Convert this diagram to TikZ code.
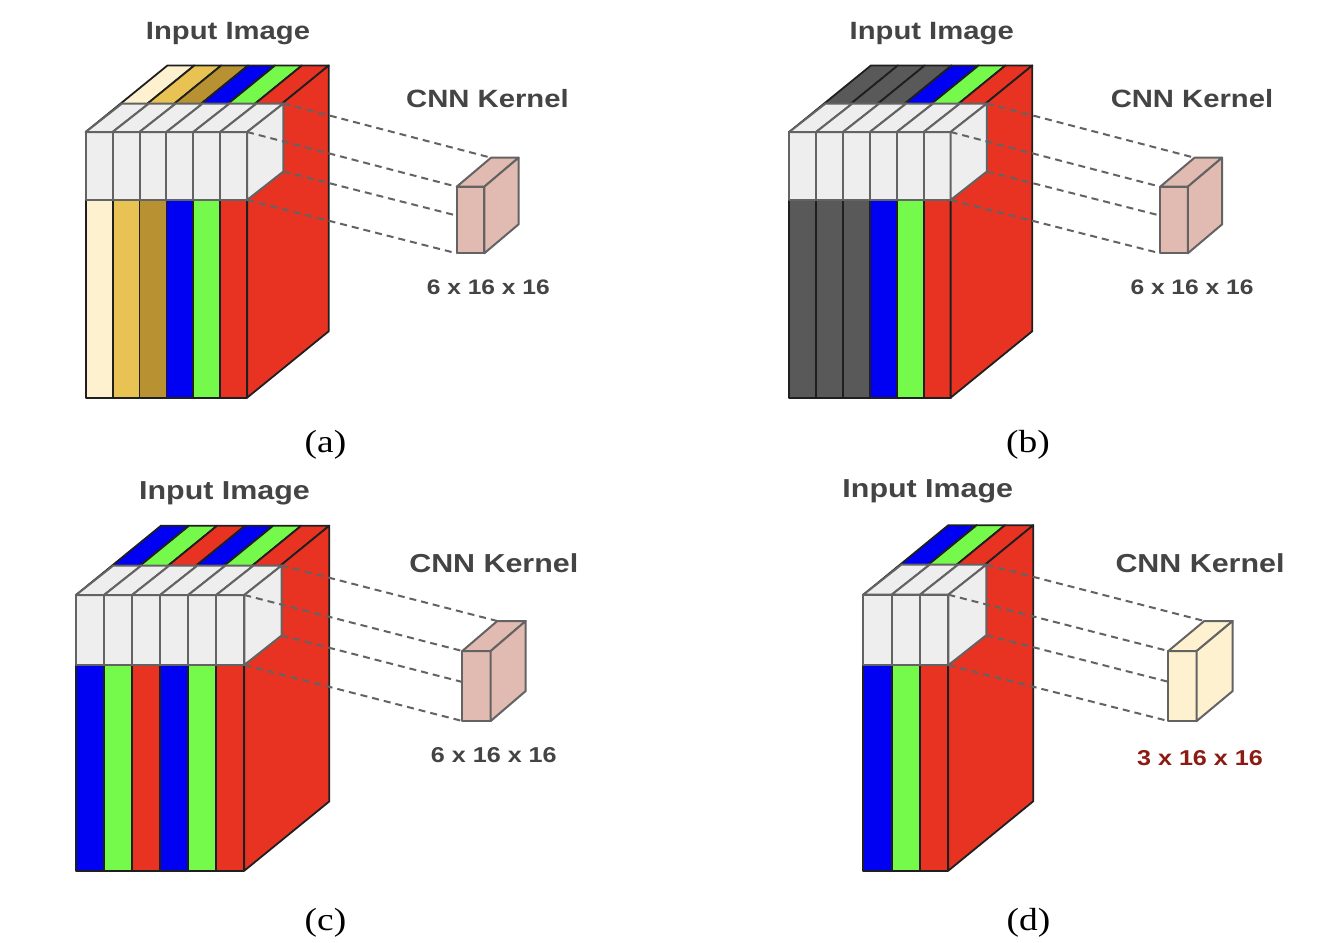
\documentclass[tikz,border=0pt]{standalone}
\usepackage{fontspec}
\setmainfont{Liberation Serif}
\setsansfont{Liberation Sans}
\usepackage{graphicx}
\definecolor{creamc}{HTML}{FDF1CF}
\definecolor{goldc}{HTML}{E8C354}
\definecolor{dgoldc}{HTML}{B79132}
\definecolor{bluec}{HTML}{0000F2}
\definecolor{greenc}{HTML}{75FA4C}
\definecolor{redc}{HTML}{E83323}
\definecolor{dgrayc}{HTML}{595959}
\definecolor{slabc}{HTML}{EEEEEE}
\definecolor{pinkc}{HTML}{E1BBB1}
\definecolor{txtc}{HTML}{444444}
\definecolor{dimredc}{HTML}{8C1B13}
\definecolor{edgec}{HTML}{636363}
\tikzset{
  blockedge/.style={draw=black!88, line width=1.8pt, line join=round},
  slabedge/.style={draw=edgec, fill=slabc, line width=2pt, line join=round},
  kedge/.style={draw=edgec, line width=2pt, line join=round},
  dashline/.style={draw=edgec, line width=2pt, dash pattern=on 7pt off 5pt},
  ttl/.style={font=\sffamily\bfseries\fontsize{25}{30}\selectfont, text=txtc, anchor=base, inner sep=0pt},
  ttlb/.style={font=\sffamily\bfseries\fontsize{26}{31}\selectfont, text=txtc, anchor=base, inner sep=0pt},
  dimlab/.style={font=\sffamily\bfseries\fontsize{21}{25}\selectfont, text=txtc, anchor=base, inner sep=0pt},
  dimlabb/.style={font=\sffamily\bfseries\fontsize{21.5}{25}\selectfont, text=txtc, anchor=base, inner sep=0pt},
  caplab/.style={font=\fontsize{32}{36}\selectfont, text=black, anchor=base, inner sep=0pt}
}
\newcommand{\cubepanel}[2]{%
  \foreach \c [count=\i from 0] in {#1} {
    \filldraw[blockedge, fill=\c] (\pX+\i*\pW,\pY) rectangle ++(\pW,\pH);
    \filldraw[blockedge, fill=\c] (\pX+\i*\pW,\pY) -- ++(\pW,0) -- ++(\pDX,-\pDY) -- ++(-\pW,0) -- cycle;
  }
  \filldraw[blockedge, fill=redc] (\pX+\pN*\pW,\pY) -- ++(\pDX,-\pDY) -- ++(0,\pH) -- ++(-\pDX,\pDY) -- cycle;
  \foreach \c [count=\i from 0] in {#1} {
    \filldraw[slabedge] (\pX+\i*\pW,\pY) rectangle ++(\pW,\pSH);
    \filldraw[slabedge] (\pX+\i*\pW,\pY) -- ++(\pW,0) -- ++(\pSX,-\pSY) -- ++(-\pW,0) -- cycle;
  }
  \filldraw[slabedge] (\pX+\pN*\pW,\pY) -- ++(\pSX,-\pSY) -- ++(0,\pSH) -- ++(-\pSX,\pSY) -- cycle;
  \coordinate (#2s1) at (\pX+\pN*\pW+\pSX, \pY-\pSY);
  \coordinate (#2s2) at (\pX+\pN*\pW, \pY);
  \coordinate (#2s3) at (\pX+\pN*\pW+\pSX, \pY-\pSY+\pSH);
  \coordinate (#2s4) at (\pX+\pN*\pW, \pY+\pSH);
  \coordinate (#2k1) at (\kX+\kDX, \kY-\kDY);
  \coordinate (#2k2) at (\kX, \kY);
  \coordinate (#2k3) at (\kX+\kDX, \kY-\kDY+\kH);
  \coordinate (#2k4) at (\kX, \kY+\kH);
  \draw[dashline] (#2s1) -- (#2k1);
  \draw[dashline] (#2s2) -- (#2k2);
  \draw[dashline] (#2s3) -- (#2k3);
  \draw[dashline] (#2s4) -- (#2k4);
  \filldraw[kedge, fill=\kC] (#2k2) rectangle ++(\kW,\kH);
  \filldraw[kedge, fill=\kC] (#2k2) -- ++(\kW,0) -- ++(\kDX,-\kDY) -- ++(-\kW,0) -- cycle;
  \filldraw[kedge, fill=\kC] (\kX+\kW,\kY) -- ++(\kDX,-\kDY) -- ++(0,\kH) -- ++(-\kDX,\kDY) -- cycle;
}
\begin{document}
\begin{tikzpicture}[x=1pt, y=-1pt]
\useasboundingbox[fill=white] (0,0) rectangle (1324,942);
% ---------- panel (a)
\def\pX{85.7}\def\pY{132}\def\pW{26.9}\def\pN{6}\def\pH{265.7}
\def\pDX{81.7}\def\pDY{66.5}\def\pSH{68}\def\pSX{36.3}\def\pSY{28.5}
\def\kX{456.7}\def\kY{186.7}\def\kW{27.6}\def\kH{66.6}\def\kDX{34.3}\def\kDY{29}\def\kC{pinkc}
\cubepanel{creamc,goldc,dgoldc,bluec,greenc,redc}{a}
% ---------- panel (b)
\def\pX{789.2}\def\kX{1160.2}
\cubepanel{dgrayc,dgrayc,dgrayc,bluec,greenc,redc}{b}
% ---------- panel (c)
\def\pX{76}\def\pY{595}\def\pW{28.05}\def\pN{6}\def\pH{275.7}
\def\pDX{85}\def\pDY{69.3}\def\pSH{70}\def\pSX{37.3}\def\pSY{29.5}
\def\kX{462.3}\def\kY{651}\def\kW{28.4}\def\kH{70}\def\kDX{35}\def\kDY{30}\def\kC{pinkc}
\cubepanel{bluec,greenc,redc,bluec,greenc,redc}{c}
% ---------- panel (d)
\def\pX{863.3}\def\pY{594.7}\def\pW{28.33}\def\pN{3}\def\pH{276}
\def\pDX{85}\def\pDY{69.5}\def\pSH{70.5}\def\pSX{38}\def\pSY{30}
\def\kX{1168.3}\def\kY{651}\def\kW{28.4}\def\kH{70}\def\kDX{36}\def\kDY{30}\def\kC{creamc}
\cubepanel{bluec,greenc,redc}{d}
% ---------- labels
\node[ttl] (ta) at (228,39.5) {\scalebox{1.17}[1]{Input Image}};
\node[ttl] (ka) at (487.5,107.7) {\scalebox{1.17}[1]{CNN Kernel}};
\node[dimlab] (da) at (488.3,294) {\scalebox{1.17}[1]{6 x 16 x 16}};
\node[caplab] (la) at (325.5,452) {\scalebox{1.17}[1]{(a)}};
\node[ttl] (tb) at (931.7,39.3) {\scalebox{1.17}[1]{Input Image}};
\node[ttl] (kb) at (1192,107.7) {\scalebox{1.17}[1]{CNN Kernel}};
\node[dimlab] (db) at (1192,294) {\scalebox{1.17}[1]{6 x 16 x 16}};
\node[caplab] (lb) at (1028,452) {\scalebox{1.17}[1]{(b)}};
\node[ttlb] (tc) at (224.5,499) {\scalebox{1.17}[1]{Input Image}};
\node[ttlb] (kc) at (493.8,572.7) {\scalebox{1.17}[1]{CNN Kernel}};
\node[dimlabb] (dc) at (493.8,762.7) {\scalebox{1.17}[1]{6 x 16 x 16}};
\node[caplab] (lc) at (325.5,930) {\scalebox{1.17}[1]{(c)}};
\node[ttlb] (td) at (927.8,497) {\scalebox{1.17}[1]{Input Image}};
\node[ttlb] (kd) at (1200,572.3) {\scalebox{1.17}[1]{CNN Kernel}};
\node[dimlabb, text=dimredc] (dd) at (1200,765) {\scalebox{1.17}[1]{3 x 16 x 16}};
\node[caplab] (ld) at (1028.5,930) {\scalebox{1.17}[1]{(d)}};
\end{tikzpicture}
\end{document}
